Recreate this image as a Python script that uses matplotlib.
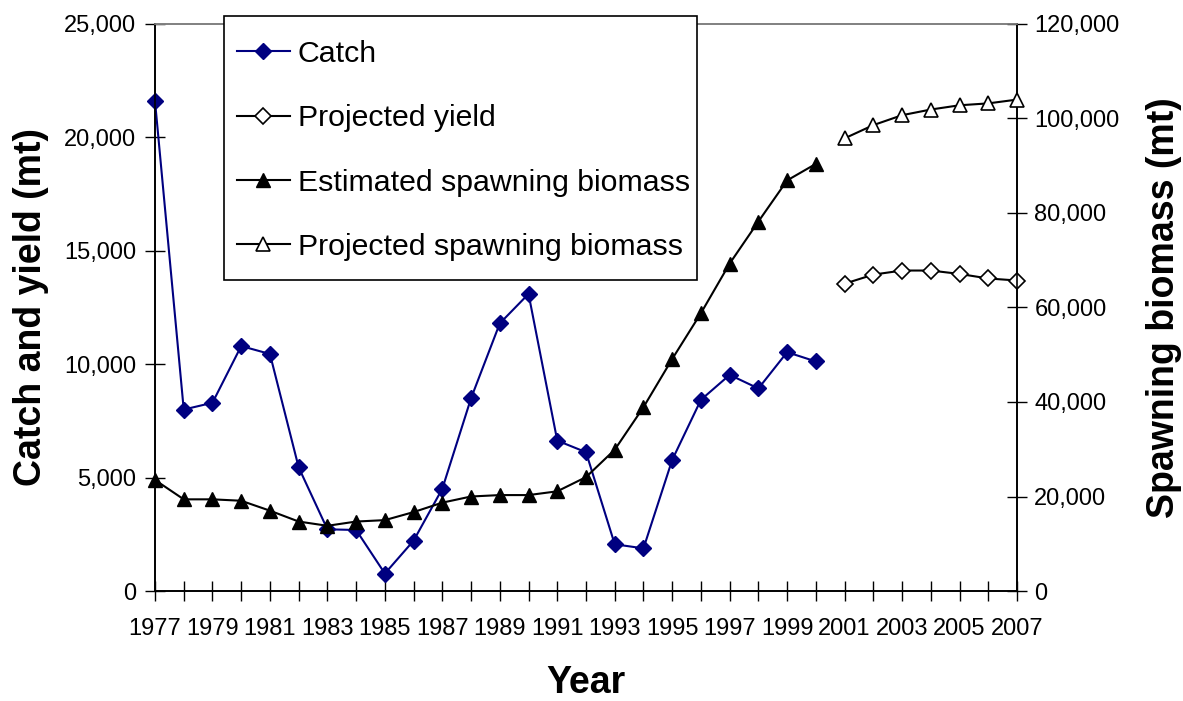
import matplotlib
matplotlib.use('Agg')
import matplotlib.pyplot as plt
from matplotlib.patches import Rectangle
from matplotlib.ticker import FuncFormatter

plt.rcParams['font.family'] = ['Liberation Sans', 'DejaVu Sans']

# Catch (mt), 1977-2000
anos_catch = list(range(1977, 2001))
catch = [21600, 8000, 8300, 10800, 10450, 5450, 2720, 2690, 770, 2220,
         4510, 8500, 11800, 13100, 6630, 6120, 2060, 1880, 5780, 8430,
         9530, 8930, 10530, 10120]

# Estimated spawning biomass (mt), 1977-2000
sb_est = [23500, 19400, 19400, 19100, 17000, 14700, 13800, 14700, 15000, 16700,
          18700, 20000, 20300, 20300, 21100, 24100, 29900, 38900, 49100, 58800,
          69300, 78200, 86900, 90400]

# Projections, 2001-2007
anos_proj = list(range(2001, 2008))
yield_proj = [13550, 13950, 14130, 14130, 13980, 13780, 13690]
sb_proj = [95800, 98600, 100700, 101900, 102800, 103200, 104000]

W, H = 1183, 701
fig = plt.figure(figsize=(W/100, H/100), dpi=100)
ax = fig.add_axes([155/W, 1 - 591/H, (1017-155)/W, (591-24)/H])
ax2 = ax.twinx()

azul = '#000080'
l1, = ax.plot(anos_catch, catch, color=azul, lw=1.5, marker='D', ms=8,
              mfc=azul, mec=azul, clip_on=False, zorder=3, label='Catch')
l2, = ax.plot(anos_proj, yield_proj, color='black', lw=1.5, marker='D', ms=8,
              mfc='white', mec='black', mew=1.2, clip_on=False, zorder=3,
              label='Projected yield')
l3, = ax2.plot(anos_catch, sb_est, color='black', lw=1.5, marker='^', ms=10,
               mfc='black', mec='black', clip_on=False, zorder=3,
               label='Estimated spawning biomass')
l4, = ax2.plot(anos_proj, sb_proj, color='black', lw=1.5, marker='^', ms=10,
               mfc='white', mec='black', mew=1.2, clip_on=False, zorder=3,
               label='Projected spawning biomass')

# Eixos
ax.set_xlim(1977, 2007)
ax.set_ylim(0, 25000)
ax2.set_ylim(0, 120000)
ax.set_xticks(range(1977, 2008))
ax.set_xticklabels([str(a) if (a - 1977) % 2 == 0 else '' for a in range(1977, 2008)])
ax.set_yticks(range(0, 25001, 5000))
ax2.set_yticks(range(0, 120001, 20000))
fmt = FuncFormatter(lambda v, p: f'{int(v):,}')
ax.yaxis.set_major_formatter(fmt)
ax2.yaxis.set_major_formatter(fmt)

for a in (ax, ax2):
    a.tick_params(direction='inout', length=15, width=1, labelsize=17, color='black')
    for s in a.spines.values():
        s.set_linewidth(1.2)
    a.spines['top'].set_color('#808080')
ax.tick_params(axis='x', pad=12)
ax.tick_params(axis='y', pad=6)
ax2.tick_params(axis='y', pad=5)

ax.set_xlabel('Year', fontsize=27, fontweight='bold', labelpad=18)
ax.set_ylabel('Catch and yield (mt)', fontsize=27, fontweight='bold', labelpad=11)
ax2.set_ylabel('Spawning biomass (mt)', fontsize=27, fontweight='bold', labelpad=19)

# Legenda com moldura desenhada à parte
moldura = Rectangle((224/W, 1 - 280/H), (697-224)/W, (280-16)/H,
                    transform=fig.transFigure, facecolor='white',
                    edgecolor='black', lw=1.2, zorder=4)
fig.patches.append(moldura)
leg = fig.legend(handles=[l1, l2, l3, l4], loc='upper left',
                 bbox_to_anchor=(237/W, 1 - 40/H), bbox_transform=fig.transFigure,
                 borderaxespad=0, borderpad=0, fontsize=21.8, frameon=False,
                 numpoints=1, handlelength=1.75, labelspacing=1.2,
                 handletextpad=0.25)
leg.set_zorder(5)

fig.savefig('out.png', dpi=100)
